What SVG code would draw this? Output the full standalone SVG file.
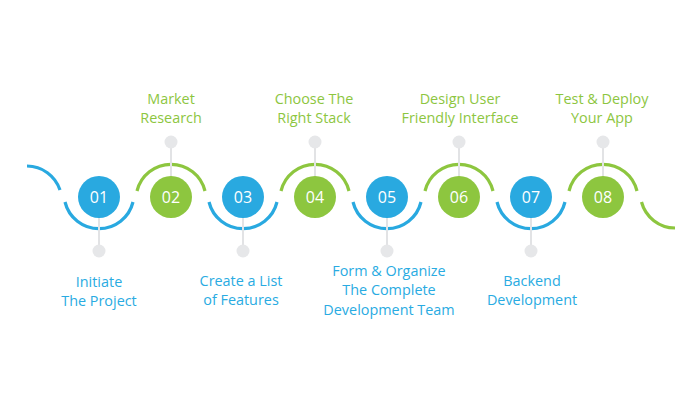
<svg xmlns="http://www.w3.org/2000/svg" width="700" height="400" viewBox="0 0 700 400">
<style>
.bg{fill:#ffffff}
.wb{fill:none;stroke:#29a9e0;stroke-width:3.2}
.wg{fill:none;stroke:#8dc63f;stroke-width:3.2}
.stem{stroke:#e2e3e5;stroke-width:2}
.dot{fill:#e6e7e9}
.cb{fill:#29a9e0}
.cg{fill:#8dc63f}
.num{font-family:"Open Sans","Liberation Sans",sans-serif;font-size:16px;fill:#ffffff;text-anchor:middle}
.lb{font-family:"Open Sans","Liberation Sans",sans-serif;font-size:14.4px;fill:#29abe2;text-anchor:middle}
.lg{font-family:"Open Sans","Liberation Sans",sans-serif;font-size:14.4px;fill:#8dc63f;text-anchor:middle}
</style>
<rect class="bg" width="700" height="400"/>
<g id="wave">
<path class="wb" d="M27 166 A35 35 0 0 1 60 190"/>
<path class="wb" d="M65 202 A35 35 0 0 0 133 202"/>
<path class="wg" d="M137 191 A35 35 0 0 1 205 191"/>
<path class="wb" d="M209 202 A35 35 0 0 0 277 202"/>
<path class="wg" d="M281 191 A35 35 0 0 1 349 191"/>
<path class="wb" d="M353 202 A35 35 0 0 0 421 202"/>
<path class="wg" d="M425 191 A35 35 0 0 1 493 191"/>
<path class="wb" d="M497 202 A35 35 0 0 0 565 202"/>
<path class="wg" d="M569 191 A35 35 0 0 1 637 191"/>
<path class="wg" d="M641.5 202 A35 35 0 0 0 675 228"/>
</g>
<g id="connectors">
<line class="stem" x1="99" y1="205" x2="99" y2="251"/>
<line class="stem" x1="171" y1="142" x2="171" y2="190"/>
<line class="stem" x1="243" y1="205" x2="243" y2="251"/>
<line class="stem" x1="315" y1="142" x2="315" y2="190"/>
<line class="stem" x1="387" y1="205" x2="387" y2="251"/>
<line class="stem" x1="459" y1="142" x2="459" y2="190"/>
<line class="stem" x1="531" y1="205" x2="531" y2="251"/>
<line class="stem" x1="603" y1="142" x2="603" y2="190"/>
</g>
<g id="n01">
<circle class="dot" cx="99" cy="251" r="6.5"/>
<circle class="cb" cx="99" cy="197" r="21"/>
<text class="num" x="99" y="203">01</text>
<text class="lb" x="99" y="287">Initiate</text>
<text class="lb" x="99" y="306">The Project</text>
</g>
<g id="n02">
<circle class="dot" cx="171" cy="142" r="6.5"/>
<circle class="cg" cx="171" cy="197" r="21"/>
<text class="num" x="171" y="203">02</text>
<text class="lg" x="171" y="104">Market</text>
<text class="lg" x="171" y="123">Research</text>
</g>
<g id="n03">
<circle class="dot" cx="243" cy="251" r="6.5"/>
<circle class="cb" cx="243" cy="197" r="21"/>
<text class="num" x="243" y="203">03</text>
<text class="lb" x="241" y="286">Create a List</text>
<text class="lb" x="241" y="305">of Features</text>
</g>
<g id="n04">
<circle class="dot" cx="315" cy="142" r="6.5"/>
<circle class="cg" cx="315" cy="197" r="21"/>
<text class="num" x="315" y="203">04</text>
<text class="lg" x="314" y="104">Choose The</text>
<text class="lg" x="314" y="123">Right Stack</text>
</g>
<g id="n05">
<circle class="dot" cx="387" cy="251" r="6.5"/>
<circle class="cb" cx="387" cy="197" r="21"/>
<text class="num" x="387" y="203">05</text>
<text class="lb" x="389" y="276">Form &amp; Organize</text>
<text class="lb" x="389" y="295">The Complete</text>
<text class="lb" x="389" y="315">Development Team</text>
</g>
<g id="n06">
<circle class="dot" cx="459" cy="142" r="6.5"/>
<circle class="cg" cx="459" cy="197" r="21"/>
<text class="num" x="459" y="203">06</text>
<text class="lg" x="460" y="104">Design User</text>
<text class="lg" x="460" y="123">Friendly Interface</text>
</g>
<g id="n07">
<circle class="dot" cx="531" cy="251" r="6.5"/>
<circle class="cb" cx="531" cy="197" r="21"/>
<text class="num" x="531" y="203">07</text>
<text class="lb" x="532" y="286">Backend</text>
<text class="lb" x="532" y="305">Development</text>
</g>
<g id="n08">
<circle class="dot" cx="603" cy="142" r="6.5"/>
<circle class="cg" cx="603" cy="197" r="21"/>
<text class="num" x="603" y="203">08</text>
<text class="lg" x="602" y="104">Test &amp; Deploy</text>
<text class="lg" x="602" y="123">Your App</text>
</g>
</svg>
